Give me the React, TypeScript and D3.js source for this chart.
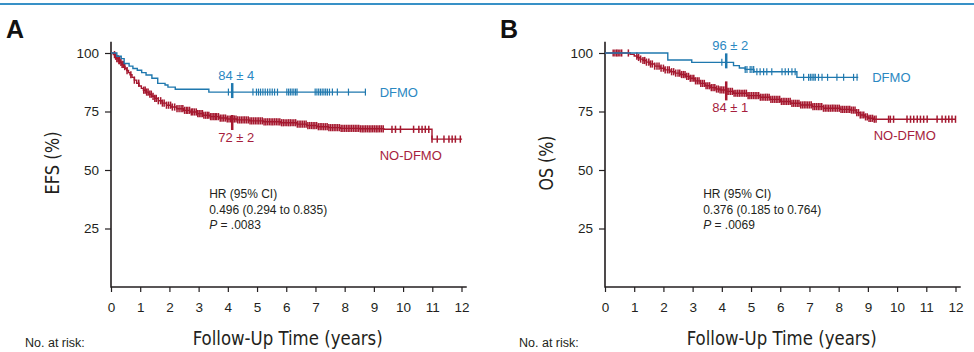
import React, { useRef, useEffect } from 'react';
import * as d3 from 'd3';

// axis ticks
const yearTicks = [0, 1, 2, 3, 4, 5, 6, 7, 8, 9, 10, 11, 12];
const pctTicks = [25, 50, 75, 100];

// Panel A - EFS, step curves as [years, percent]
const efsDfmo: [number, number][] = [
  [0, 100], [0.2, 98.6], [0.35, 97.6], [0.45, 95.5], [0.62, 94.4], [0.75, 93.4],
  [0.9, 92.6], [1.05, 91.6], [1.2, 90.6], [1.4, 89.2], [1.6, 87], [1.85, 86.3],
  [1.95, 85.4], [2.2, 84.5], [3.35, 83.3], [8.72, 83.3],
];
const efsNoDfmo: [number, number][] = [
  [0, 100], [0.08, 99.3], [0.14, 98.6], [0.2, 97.6], [0.26, 96.7], [0.31, 96], [0.37, 95.1],
  [0.43, 94.2], [0.48, 93.4], [0.54, 92.5], [0.6, 91.6], [0.65, 90.7], [0.72, 89.6], [0.8, 88.4],
  [0.88, 87.1], [0.96, 85.9], [1.04, 84.9], [1.11, 84.1], [1.2, 83.3], [1.3, 82.4], [1.4, 81.5],
  [1.5, 80.6], [1.62, 79.6], [1.75, 78.6], [1.9, 77.7], [2.05, 76.9], [2.25, 76.2], [2.48, 75.5],
  [2.7, 74.8], [2.94, 74.1], [3.15, 73.4], [3.39, 72.8], [3.7, 72.2], [3.97, 71.8], [4.3, 71.4],
  [4.75, 71.0], [5.22, 70.6], [5.8, 70.2], [6.37, 69.6], [6.7, 69.0], [7.05, 68.5], [7.45, 68.1],
  [7.85, 67.8], [8.5, 67.6], [9.34, 67.4], [10.99, 63.2], [12.02, 63.2],
];
const efsDfmoCensor = [
  4.02, 4.86, 4.98, 5.05, 5.12, 5.2, 5.28, 5.36, 5.44, 5.52, 5.6, 5.7,
  6.02, 6.08, 6.14, 6.2, 6.26, 6.32, 6.37,
  6.99, 7.05, 7.11, 7.17, 7.23, 7.29, 7.35, 7.41, 7.48, 7.58, 7.75, 8.13, 8.71,
];
const efsNoDfmoCensor = [
  0.12, 0.16, 0.2, 0.24, 0.27, 0.3, 0.34, 0.38, 0.42, 0.47, 0.55, 0.68, 0.8, 0.95,
  1.12, 1.17, 1.22, 1.27, 1.33, 1.38, 1.44, 1.5, 1.55, 1.62, 1.7, 1.76, 1.82, 1.9, 1.97,
  2.04, 2.1, 2.18, 2.26, 2.33, 2.4, 2.46, 2.52, 2.58, 2.63, 2.69, 2.75, 2.8, 2.86, 2.92, 2.97,
  3.02, 3.08, 3.13, 3.18, 3.24, 3.3, 3.35, 3.41, 3.46, 3.52, 3.57, 3.62, 3.68, 3.74, 3.8, 3.86, 3.92, 3.98,
  4.04, 4.1, 4.16, 4.22, 4.28, 4.34, 4.4, 4.46, 4.52, 4.58, 4.64, 4.7, 4.76, 4.82, 4.88, 4.94,
  5.0, 5.06, 5.12, 5.18, 5.24, 5.3, 5.36, 5.42, 5.48, 5.54, 5.6, 5.66, 5.72, 5.78, 5.84, 5.9, 5.96,
  6.02, 6.08, 6.14, 6.2, 6.26, 6.32, 6.38, 6.44, 6.5, 6.56, 6.62, 6.68, 6.74, 6.8, 6.86, 6.92, 6.98,
  7.04, 7.1, 7.16, 7.22, 7.28, 7.34, 7.4, 7.46, 7.52, 7.58, 7.64, 7.7, 7.76, 7.82, 7.88, 7.94,
  8.0, 8.06, 8.12, 8.18, 8.24, 8.3, 8.36, 8.42, 8.48, 8.54, 8.6, 8.66, 8.72, 8.78, 8.84, 8.9, 8.96,
  9.02, 9.08, 9.14, 9.2, 9.26, 9.32,
  9.62, 9.74, 9.91, 10.36, 10.54, 10.65, 10.76, 10.88, 10.99,
  11.17, 11.4, 11.57, 11.68, 11.79, 11.96,
];
const efsHr = ['HR (95% CI)', '0.496 (0.294 to 0.835)', '.0083'];
const efsAt4 = ['84 ± 4', '72 ± 2'];

// Panel B - OS
const osDfmo: [number, number][] = [
  [0, 100], [2.15, 97], [2.97, 96], [4.4, 94.6], [4.6, 93.6], [4.8, 93], [5.1, 92],
  [6.57, 89.6], [8.67, 89.6],
];
const osNoDfmo: [number, number][] = [
  [0, 100], [0.86, 99.4], [1.0, 98.7], [1.1, 98.1], [1.2, 97.4], [1.3, 96.8], [1.42, 96.1],
  [1.54, 95.3], [1.7, 94.4], [1.89, 93.5], [2.05, 92.8], [2.23, 92], [2.4, 91.4], [2.57, 90.8],
  [2.75, 90], [2.91, 89.2], [3.08, 88.1], [3.26, 87], [3.43, 86], [3.6, 85.2], [3.8, 84.6],
  [3.94, 84.2], [4.15, 83.6], [4.4, 82.8], [4.86, 81.8], [5.31, 81.1], [5.65, 80.2], [6.0, 79.3],
  [6.35, 78.5], [6.69, 77.8], [7.1, 77.1], [7.48, 76.4], [8.06, 75.9], [8.4, 75.6], [8.6, 74.5],
  [8.74, 73.5], [8.9, 72.7], [9.03, 72.1], [9.2, 71.7], [12.0, 71.7],
];
const osDfmoCensor = [
  4.0, 4.8, 4.86, 4.97, 5.03, 5.09, 5.2, 5.31, 5.43, 5.54, 5.71, 6.06, 6.17, 6.28, 6.4, 6.51,
  6.8, 6.97, 7.03, 7.09, 7.15, 7.2, 7.31, 7.43, 7.62, 7.94, 8.17, 8.51, 8.63,
];
const osNoDfmoCensor = [
  0.28, 0.34, 0.4, 0.45, 0.51, 0.57, 0.8,
  1.09, 1.15, 1.22, 1.3, 1.36, 1.42, 1.5, 1.56, 1.62, 1.7, 1.78, 1.85, 1.92,
  2.0, 2.06, 2.14, 2.2, 2.28, 2.35, 2.42, 2.5, 2.56, 2.62, 2.68, 2.74, 2.8, 2.86, 2.92, 2.98,
  3.04, 3.1, 3.16, 3.22, 3.28, 3.34, 3.4, 3.46, 3.52, 3.58, 3.64, 3.7, 3.76, 3.82, 3.88, 3.94,
  4.0, 4.06, 4.12, 4.18, 4.24, 4.3, 4.36, 4.42, 4.48, 4.54, 4.6, 4.66, 4.72, 4.78, 4.84, 4.9, 4.96,
  5.02, 5.08, 5.14, 5.2, 5.26, 5.32, 5.38, 5.44, 5.5, 5.56, 5.62, 5.68, 5.74, 5.8, 5.86, 5.92, 5.98,
  6.04, 6.1, 6.16, 6.22, 6.28, 6.34, 6.4, 6.46, 6.52, 6.58, 6.64, 6.7, 6.76, 6.82, 6.88, 6.94,
  7.0, 7.06, 7.12, 7.18, 7.24, 7.3, 7.36, 7.42, 7.48, 7.54, 7.6, 7.66, 7.72, 7.78, 7.84, 7.9, 7.96,
  8.02, 8.08, 8.14, 8.2, 8.26, 8.32, 8.38, 8.44, 8.5, 8.56, 8.62, 8.68, 8.74, 8.8, 8.86, 8.92, 8.98,
  9.04, 9.1, 9.16, 9.22, 9.28,
  9.71, 9.77, 9.88, 10.34, 10.46, 10.57, 10.69, 10.8, 10.91, 11.03,
  11.37, 11.54, 11.66, 11.77, 11.88, 12.0,
];
const osHr = ['HR (95% CI)', '0.376 (0.185 to 0.764)', '.0069'];
const osAt4 = ['96 ± 2', '84 ± 1'];

const markYear = 4.15;

const BLUE = '#1f78ae';
const BLUE_TEXT = '#2b88c2';
const RED = '#a5182f';
const RED_TEXT = '#a61d3d';
const INK = '#231f20';
const FONT = "'Liberation Sans', Arial, sans-serif";
const NARROW = "'Liberation Sans Narrow', 'DejaVu Sans Condensed', sans-serif";

function survAt(curve: [number, number][], t: number) {
  let s = curve[0][1];
  for (const p of curve) if (p[0] <= t) s = p[1];
  return s;
}

export default function App() {
  const svgRef = useRef<SVGSVGElement>(null);

  useEffect(() => {
    const width = 974;
    const height = 352;
    const svg = d3.select(svgRef.current);
    svg.selectAll('*').remove();
    svg.attr('width', width).attr('height', height).attr('viewBox', [0, 0, width, height]);

    // top rule
    svg.append('line').attr('x1', 0).attr('x2', width).attr('y1', 4).attr('y2', 4)
      .attr('stroke', '#3891c7').attr('stroke-width', 2);

    const panels = [
      { letter: 'A', title: 'EFS (%)', left: 111, dfmo: efsDfmo, nodfmo: efsNoDfmo,
        dCens: efsDfmoCensor, nCens: efsNoDfmoCensor, hr: efsHr, at4: efsAt4,
        nMark: [-4, 11] },
      { letter: 'B', title: 'OS (%)', left: 605, dfmo: osDfmo, nodfmo: osNoDfmo,
        dCens: osDfmoCensor, nCens: osNoDfmoCensor, hr: osHr, at4: osAt4,
        nMark: [-10, 9] },
    ];

    panels.forEach(p => {
      const x = d3.scaleLinear().domain([0, 12]).range([p.left, p.left + 350.5]);
      const y = d3.scaleLinear().domain([0, 100]).range([287, 53]);
      const g = svg.append('g');

      g.append('text').text(p.letter)
        .attr('x', p.left - 105).attr('y', 38)
        .attr('font-family', FONT).attr('font-weight', 'bold').attr('font-size', 25).attr('fill', '#111');

      // x axis
      g.append('g').attr('transform', `translate(0,${y(0)})`)
        .call(d3.axisBottom(x).tickValues(yearTicks).tickSize(5).tickPadding(10).tickSizeOuter(0))
        .call(a => a.select('.domain').remove())
        .call(a => a.selectAll('.tick line').attr('stroke', INK).attr('stroke-width', 1.2))
        .call(a => a.selectAll('.tick text').attr('fill', INK).attr('font-size', 13.5).attr('font-family', FONT));

      // y axis
      g.append('g').attr('transform', `translate(${x(0)},0)`)
        .call(d3.axisLeft(y).tickValues(pctTicks).tickSize(6).tickPadding(6).tickSizeOuter(0))
        .call(a => a.select('.domain').remove())
        .call(a => a.selectAll('.tick line').attr('stroke', INK).attr('stroke-width', 1.2))
        .call(a => a.selectAll('.tick text').attr('fill', INK).attr('font-size', 13.5).attr('font-family', FONT));

      g.append('path')
        .attr('d', `M${x(0)},${y(104.8)}V${y(0)}H${x(12.18)}`)
        .attr('fill', 'none').attr('stroke', INK).attr('stroke-width', 1.6);

      g.append('text').text(p.title)
        .attr('transform', `translate(${p.left - 52},${y(53)}) rotate(-90)`)
        .attr('text-anchor', 'middle')
        .attr('textLength', p.letter === 'A' ? 63 : 55).attr('lengthAdjust', 'spacingAndGlyphs')
        .attr('font-family', NARROW).attr('font-size', 20).attr('fill', INK);

      g.append('text').text('Follow-Up Time (years)')
        .attr('x', x(6.05)).attr('y', 345)
        .attr('text-anchor', 'middle')
        .attr('textLength', 190).attr('lengthAdjust', 'spacingAndGlyphs')
        .attr('font-family', NARROW).attr('font-size', 20).attr('fill', INK);

      g.append('text').text('No. at risk:')
        .attr('x', p.left - 86).attr('y', 347)
        .attr('font-family', FONT).attr('font-size', 12.5).attr('fill', INK);

      // hazard ratio
      const hr = g.append('text').attr('font-family', FONT).attr('font-size', 12).attr('fill', INK);
      hr.append('tspan').attr('x', x(3.36)).attr('y', 198).text(p.hr[0]);
      hr.append('tspan').attr('x', x(3.36)).attr('y', 214).text(p.hr[1]);
      const pl = hr.append('tspan').attr('x', x(3.36)).attr('y', 229);
      pl.append('tspan').attr('font-style', 'italic').text('P');
      pl.append('tspan').text(' = ' + p.hr[2]);

      const line = d3.line<[number, number]>()
        .x(d => x(d[0])).y(d => y(d[1]))
        .curve(d3.curveStepAfter);

      const series = [
        { curve: p.nodfmo, cens: p.nCens, color: RED, tcolor: RED_TEXT, name: 'NO-DFMO', lab: p.at4[1], mark: p.nMark, below: true, tick: 3.6, tw: 1.5 },
        { curve: p.dfmo, cens: p.dCens, color: BLUE, tcolor: BLUE_TEXT, name: 'DFMO', lab: p.at4[0], mark: [-9, 6], below: false, tick: 3.5, tw: 1.2 },
      ];

      series.forEach(s => {
        g.append('path').attr('d', line(s.curve))
          .attr('fill', 'none').attr('stroke', s.color).attr('stroke-width', 1.4);

        g.append('g').selectAll('line').data(s.cens).join('line')
          .attr('x1', d => x(d)).attr('x2', d => x(d))
          .attr('y1', d => y(survAt(s.curve, d)) - s.tick)
          .attr('y2', d => y(survAt(s.curve, d)) + s.tick)
          .attr('stroke', s.color).attr('stroke-width', s.tw);

        // 4-year estimate
        const ym = y(survAt(s.curve, markYear));
        g.append('line')
          .attr('x1', x(markYear)).attr('x2', x(markYear))
          .attr('y1', ym + s.mark[0]).attr('y2', ym + s.mark[1])
          .attr('stroke', s.color).attr('stroke-width', 2.5);
        g.append('text').text(s.lab)
          .attr('x', x(markYear) + 4)
          .attr('y', s.below ? ym + s.mark[1] + 12 : ym + s.mark[0] - 3)
          .attr('text-anchor', 'middle')
          .attr('font-family', FONT).attr('font-size', 13).attr('fill', s.tcolor);

        const last = s.curve[s.curve.length - 1];
        const endX = s.below ? x(9.2) : x(last[0]) + 14;
        const endY = s.below ? y(last[1]) + 21 : y(last[1]) + 4.5;
        g.append('text').text(s.name)
          .attr('x', endX).attr('y', endY)
          .attr('font-family', FONT).attr('font-size', 13).attr('fill', s.tcolor);
      });
    });
  }, []);

  return (
    <div>
      <svg ref={svgRef} style={{ position: 'absolute', left: 0, top: 0 }}></svg>
    </div>
  );
}
